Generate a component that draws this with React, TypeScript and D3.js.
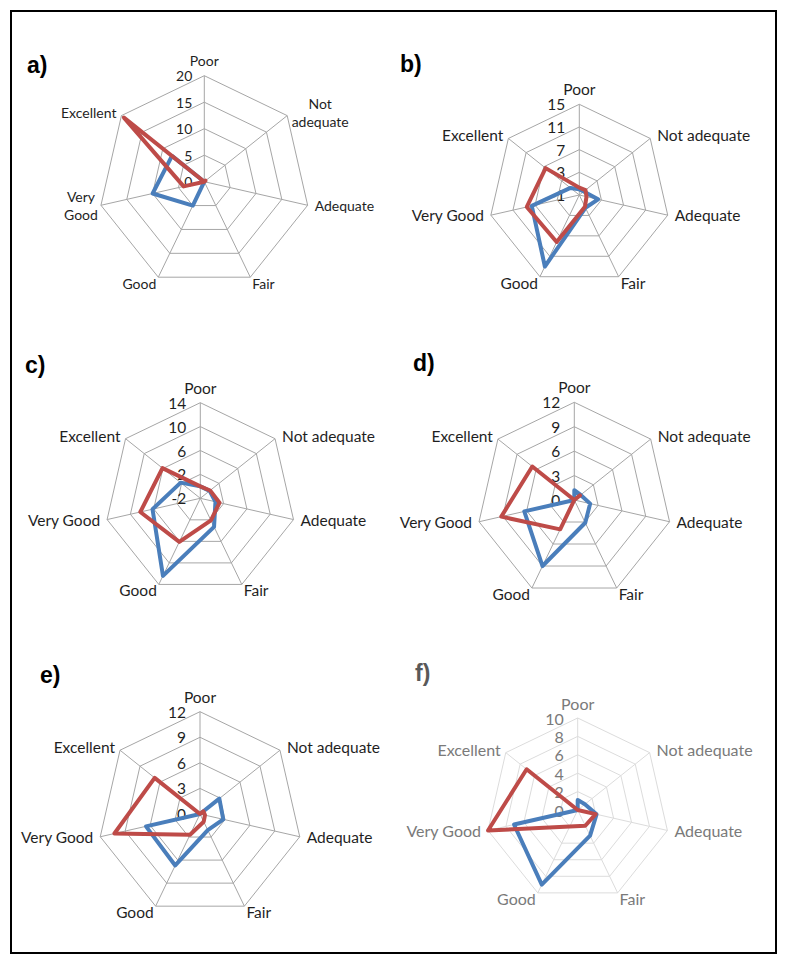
import React from "react";
import * as d3 from "d3";

const CATEGORIES = ["Poor", "Not adequate", "Adequate", "Fair", "Good", "Very Good", "Excellent"];

const A_TICKS = [0, 5, 10, 15, 20];
const A_BLUE = [0, 0, 0, 0, 5, 10, 7.8];
const A_RED = [0, 0.3, 0, 0, 0, 4, 19.4];

const B_TICKS = [-1, 3, 7, 11, 15];
const B_BLUE = [0, 0, 2.4, 1.5, 13, 7.6, 1];
const B_RED = [0.3, 0.4, 0.3, 1.3, 8.2, 8.5, 6.6];

const C_TICKS = [-2, 2, 6, 10, 14];
const C_BLUE = [0, 0, 0.6, 3.3, 12.4, 6.2, 2.2];
const C_RED = [0, 0.1, 1.3, 2.1, 6.1, 8.3, 6.1];

const D_TICKS = [0, 3, 6, 9, 12];
const D_BLUE = [1.2, 1, 2, 3.1, 9, 6.3, 0];
const D_RED = [0, 0.9, 0, 0, 4, 9.2, 6.6];

const E_TICKS = [0, 3, 6, 9, 12];
const E_BLUE = [0, 2.9, 2.8, 2.1, 6.7, 6.5, 0];
const E_RED = [0, 0.5, 0.6, 1, 2.7, 10.3, 6.8];

const F_TICKS = [0, 2, 4, 6, 8, 10];
const F_BLUE = [1.1, 1, 2.1, 3.1, 9, 7.1, 0];
const F_RED = [0, 0, 2.0, 1.9, 2.0, 10, 7.1];

const BLUE = "#4a7ebb";
const RED = "#be4b48";
const FONT = "Lato, 'Liberation Sans', sans-serif";

type RadarProps = {
  letter: string;
  letterX: number;
  letterY: number;
  cx: number;
  cy: number;
  r: number;
  ticks: number[];
  blue: number[];
  red: number[];
  fontSize: number;
  textColor: string;
  gridColor: string;
  letterColor: string;
  wrapped?: boolean;
  tickDx?: number;
};

function Radar(p: RadarProps) {
  const n = CATEGORIES.length;
  const rs = d3.scaleLinear().domain([p.ticks[0], p.ticks[p.ticks.length - 1]]).range([0, p.r]);
  const ang = d3.scaleLinear().domain([0, n]).range([0, 2 * Math.PI]);
  const series = d3
    .lineRadial<number>()
    .angle((_, i) => ang(i))
    .radius((d) => rs(d))
    .curve(d3.curveLinearClosed);
  const ring = (t: number) =>
    d3
      .lineRadial<number>()
      .angle((_, i) => ang(i))
      .radius(() => rs(t))
      .curve(d3.curveLinearClosed)(CATEGORIES.map(() => t));
  const vx = (i: number, rad: number) => rad * Math.sin(ang(i));
  const vy = (i: number, rad: number) => -rad * Math.cos(ang(i));

  const labelEls = CATEGORIES.map((c, i) => {
    const x = vx(i, p.r);
    const y = vy(i, p.r);
    if (p.wrapped && (i === 1 || i === 5)) {
      const lines = i === 1 ? ["Not", "adequate"] : ["Very", "Good"];
      const dx = i === 1 ? 33 : -20;
      const dys = i === 1 ? [-12.5, 6] : [-9, 9];
      return (
        <g key={c}>
          {lines.map((l, k) => (
            <text key={l} x={x + dx} y={y + dys[k]} textAnchor="middle" dominantBaseline="central">
              {l}
            </text>
          ))}
        </g>
      );
    }
    const cfg = [
      { a: "middle", dx: 0, dy: -15 },
      { a: "start", dx: 7, dy: -3 },
      { a: "start", dx: 7, dy: 0 },
      { a: "start", dx: 2, dy: 6 },
      { a: "end", dx: -2, dy: 6 },
      { a: "end", dx: -7, dy: 0 },
      { a: "end", dx: -5, dy: -3 },
    ][i];
    return (
      <text key={c} x={x + cfg.dx} y={y + cfg.dy} textAnchor={cfg.a as any} dominantBaseline="central">
        {c}
      </text>
    );
  });

  return (
    <g>
      <text
        x={p.letterX}
        y={p.letterY}
        fontFamily="'Liberation Sans', Arial, sans-serif"
        fontWeight="bold"
        fontSize={23}
        fill={p.letterColor}
      >
        {p.letter}
      </text>
      <g transform={`translate(${p.cx},${p.cy})`}>
        {p.ticks.slice(1).map((t) => (
          <path key={t} d={ring(t) || ""} fill="none" stroke={p.gridColor} strokeWidth={1} />
        ))}
        {CATEGORIES.map((c, i) => (
          <line key={c} x1={0} y1={0} x2={vx(i, p.r)} y2={vy(i, p.r)} stroke={p.gridColor} strokeWidth={1} />
        ))}
        <g fontFamily={FONT} fontSize={p.fontSize} fill={p.textColor}>
          {p.ticks.map((t) => (
            <text key={t} x={p.tickDx ?? -14} y={-rs(t)} textAnchor="end" dominantBaseline="central">
              {t}
            </text>
          ))}
          {labelEls}
        </g>
        <path d={series(p.blue) || ""} fill="none" stroke={BLUE} strokeWidth={4} strokeLinejoin="round" />
        <path d={series(p.red) || ""} fill="none" stroke={RED} strokeWidth={4} strokeLinejoin="round" />
      </g>
    </g>
  );
}

export default function App() {
  const dark = "#1f1f1f";
  const grid = "#a6a6a6";
  return (
    <svg width={786} height={966} style={{ position: "absolute", left: 0, top: 0, background: "#fff" }}>
      <rect x={0} y={0} width={786} height={966} fill="#fff" />
      <rect x={11} y={11} width={765} height={942} fill="none" stroke="#000" strokeWidth={2} />
      <Radar letter="a)" letterX={27} letterY={73} cx={204.3} cy={181.7} r={106} ticks={A_TICKS} blue={A_BLUE} red={A_RED}
        fontSize={14} textColor={dark} gridColor={grid} letterColor="#000" wrapped tickDx={-12} />
      <Radar letter="b)" letterX={400} letterY={72} cx={579.3} cy={195} r={90.7} ticks={B_TICKS} blue={B_BLUE} red={B_RED}
        fontSize={15.5} textColor={dark} gridColor={grid} letterColor="#000" />
      <Radar letter="c)" letterX={25} letterY={373} cx={200.3} cy={498.3} r={95.6} ticks={C_TICKS} blue={C_BLUE} red={C_RED}
        fontSize={15.5} textColor={dark} gridColor={grid} letterColor="#000" />
      <Radar letter="d)" letterX={413} letterY={371} cx={574.3} cy={500} r={97.7} ticks={D_TICKS} blue={D_BLUE} red={D_RED}
        fontSize={15.5} textColor={dark} gridColor={grid} letterColor="#000" />
      <Radar letter="e)" letterX={40} letterY={683} cx={200} cy={814} r={102.3} ticks={E_TICKS} blue={E_BLUE} red={E_RED}
        fontSize={15.5} textColor={dark} gridColor={grid} letterColor="#000" />
      <Radar letter="f)" letterX={415} letterY={681} cx={577.7} cy={810} r={92} ticks={F_TICKS} blue={F_BLUE} red={F_RED}
        fontSize={16} textColor="#7a7a7a" gridColor="#dcdcdc" letterColor="#595959" />
    </svg>
  );
}
